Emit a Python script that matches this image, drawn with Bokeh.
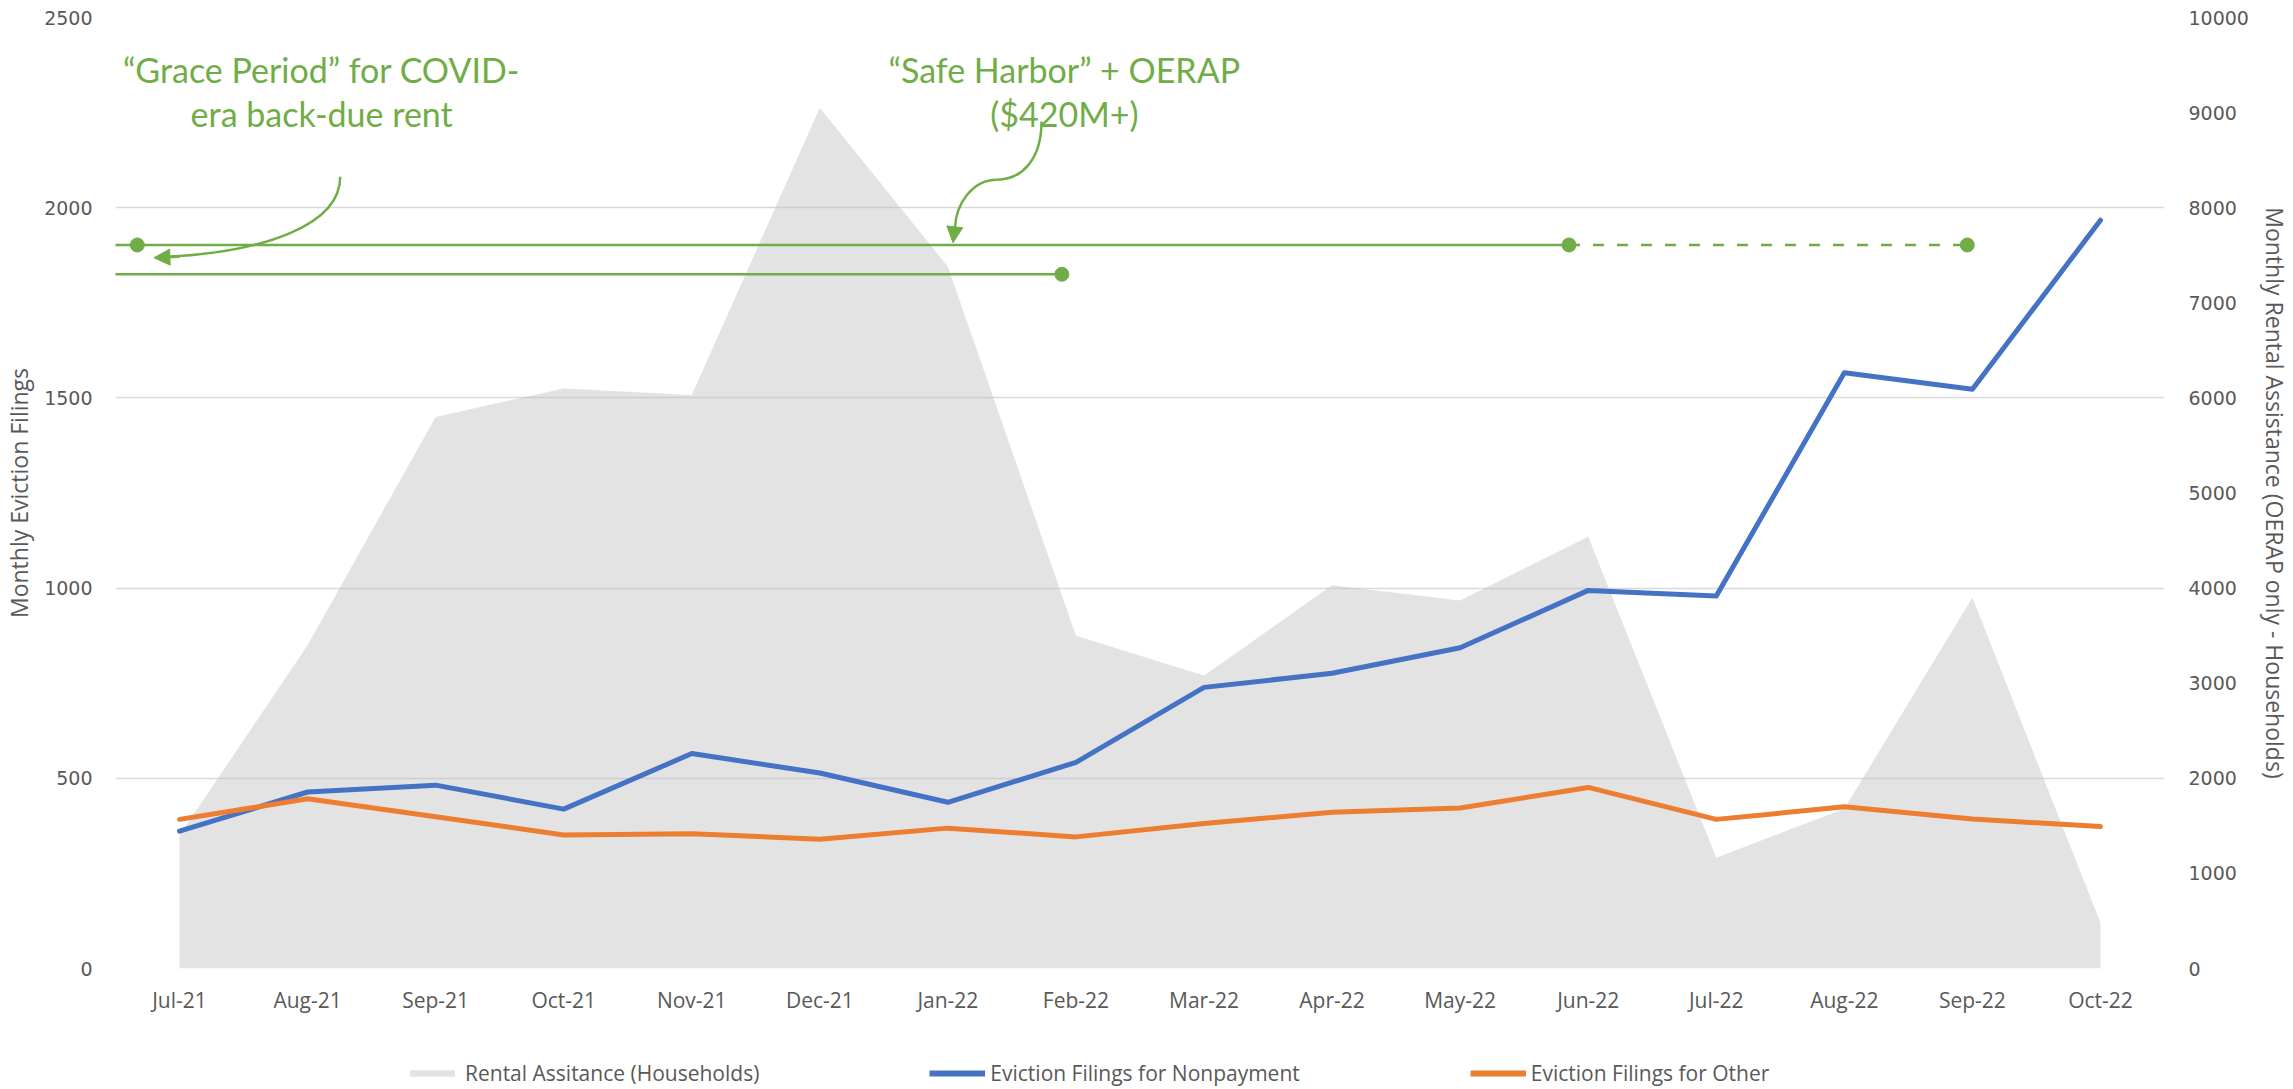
from bokeh.plotting import figure
from bokeh.layouts import column
from bokeh.models import (FactorRange, Range1d, LinearAxis, FixedTicker, Legend,
                          LegendItem, Label, Arrow, NormalHead)
from bokeh.embed import file_html
from bokeh.resources import INLINE

# ---------------- data ----------------
months = ["Jul-21", "Aug-21", "Sep-21", "Oct-21", "Nov-21", "Dec-21", "Jan-22", "Feb-22",
          "Mar-22", "Apr-22", "May-22", "Jun-22", "Jul-22", "Aug-22", "Sep-22", "Oct-22"]
rental_assistance = [1400, 3400, 5800, 6100, 6030, 9050, 7380, 3500,
                     3080, 4030, 3870, 4540, 1165, 1680, 3900, 480]
nonpayment = [361, 464, 482, 419, 565, 514, 437, 542,
              739, 776, 843, 994, 979, 1566, 1523, 1967]
other = [392, 446, 399, 351, 354, 340, 369, 346,
         381, 411, 422, 476, 392, 425, 393, 373]
left_ticks = [0, 500, 1000, 1500, 2000, 2500]
right_ticks = [0, 1000, 2000, 3000, 4000, 5000, 6000, 7000, 8000, 9000, 10000]

series_names = ["Rental Assitance (Households)", "Eviction Filings for Nonpayment",
                "Eviction Filings for Other"]
left_title = "Monthly Eviction Filings"
right_title = "Monthly Rental Assistance (OERAP only - Households)"

# annotation content (policy periods on the left axis scale)
grace_text = ["\u201cGrace Period\u201d for COVID-", "era back-due rent"]
safe_text = ["\u201cSafe Harbor\u201d + OERAP", "($420M+)"]
safe_y = 1902
grace_y = 1825

GREEN = "#70AD47"
BLUE = "#4472C4"
ORANGE = "#ED7D31"
GRAY_TXT = "#595959"
AREA_FILL = "#BDBDBD"
AREA_ALPHA = 0.42

p = figure(width=2293, height=1040,
           x_range=FactorRange(factors=months, range_padding=0),
           y_range=Range1d(0, 2500),
           output_backend="svg", toolbar_location=None,
           min_border_left=111, min_border_right=122,
           min_border_top=17, min_border_bottom=72)
p.outline_line_color = None
p.background_fill_color = "white"
p.extra_y_ranges = {"right": Range1d(0, 10000)}

# grid
p.xgrid.grid_line_color = None
p.ygrid.ticker = FixedTicker(ticks=left_ticks)
p.ygrid.grid_line_color = "#D9D9D9"
p.ygrid.grid_line_width = 1.5

# left axis
ya = p.yaxis[0]
ya.ticker = FixedTicker(ticks=left_ticks)
ya.axis_label = left_title

# right axis
ra = LinearAxis(y_range_name="right", ticker=FixedTicker(ticks=right_ticks),
                axis_label=right_title)
p.add_layout(ra, "right")

for ax, so, lso in ((ya, 23, 6), (ra, 24, 7)):
    ax.axis_line_color = None
    ax.major_tick_line_color = None
    ax.minor_tick_line_color = None
    ax.major_tick_out = 0
    ax.major_tick_in = 0
    ax.minor_tick_out = 0
    ax.major_label_text_font = "DejaVu Sans"
    ax.major_label_text_font_size = "19px"
    ax.major_label_text_color = GRAY_TXT
    ax.major_label_standoff = so
    ax.axis_label_text_font = "Open Sans"
    ax.axis_label_text_font_size = "23px"
    ax.axis_label_text_font_style = "normal"
    ax.axis_label_text_color = GRAY_TXT
    ax.axis_label_standoff = lso

xa = p.xaxis[0]
xa.axis_line_color = None
xa.major_tick_line_color = None
xa.minor_tick_line_color = None
xa.major_tick_out = 0
xa.major_tick_in = 0
xa.major_label_text_font = "Open Sans"
xa.major_label_text_font_size = "21px"
xa.major_label_text_color = GRAY_TXT
xa.major_label_standoff = 17

# area (right axis)
p.varea(x=months, y1=[0] * len(months), y2=rental_assistance, y_range_name="right",
        fill_color=AREA_FILL, fill_alpha=AREA_ALPHA)

# lines
p.line(months, nonpayment, line_color=BLUE, line_width=5, line_join="round", line_cap="round")
p.line(months, other, line_color=ORANGE, line_width=5, line_join="round", line_cap="round")

# ---------- policy annotations (synthetic x positions on the category axis) ----------
left_edge = -0.80
safe_solid_end = 11.35
safe_dash_end = 14.46
grace_end = 7.39
safe_dot_start = 0.17

p.add_layout(Arrow(end=None, x_start=left_edge, y_start=safe_y, x_end=safe_solid_end, y_end=safe_y,
                   line_color=GREEN, line_width=2.5))
p.add_layout(Arrow(end=None, x_start=safe_solid_end, y_start=safe_y, x_end=safe_dash_end, y_end=safe_y,
                   line_color=GREEN, line_width=2.5, line_dash="11 13"))
p.add_layout(Arrow(end=None, x_start=left_edge, y_start=grace_y, x_end=grace_end, y_end=grace_y,
                   line_color=GREEN, line_width=2.5))
p.scatter(x=[safe_dot_start, safe_solid_end, safe_dash_end], y=[safe_y] * 3, size=14,
          color=GREEN, marker="circle")
p.scatter(x=[grace_end], y=[grace_y], size=14, color=GREEN, marker="circle")

# curved callout arrows
p.bezier(x0=[1.755], y0=[2081.6], x1=[0.404], y1=[1871.1],
         cx0=[1.755], cy0=[1955.3], cx1=[1.173], cy1=[1884.2],
         line_color=GREEN, line_width=2.5)
p.add_layout(Arrow(end=NormalHead(size=16, fill_color=GREEN, line_color=GREEN),
                   x_start=0.50, y_start=1871.0, x_end=0.30, y_end=1868.4,
                   line_color=GREEN, line_width=2.5))

p.bezier(x0=[7.231, 6.882], y0=[2226.3, 2073.7], x1=[6.882, 6.555], y1=[2073.7, 1947.4],
         cx0=[7.231, 6.687], cy0=[2126.3, 2073.7], cx1=[7.076, 6.563], cy1=[2073.7, 2007.9],
         line_color=GREEN, line_width=2.5)
p.add_layout(Arrow(end=NormalHead(size=16, fill_color=GREEN, line_color=GREEN),
                   x_start=6.555, y_start=1952.6, x_end=6.540, y_end=1907.9,
                   line_color=GREEN, line_width=2.5))

for txt_lines, cx in ((grace_text, 1.610), (safe_text, 7.41)):
    for txt, yy in zip(txt_lines, (2362.0, 2247.0)):
        p.add_layout(Label(x=cx, y=yy, text=txt, text_align="center", text_baseline="middle",
                           text_font="Lato", text_font_size="34px", text_color=GREEN))

# ---------- legend strip below the chart ----------
lg = figure(width=2293, height=49, output_backend="svg", toolbar_location=None,
            x_range=Range1d(0, 1), y_range=Range1d(0, 1),
            x_axis_type=None, y_axis_type=None,
            min_border=0, min_border_left=0, min_border_right=0,
            min_border_top=0, min_border_bottom=0)
lg.grid.visible = False
lg.outline_line_color = None
off = [-5, -4]
r_area = lg.varea(x=off, y1=[-5, -5], y2=[-4, -4], fill_color="#E3E3E3", fill_alpha=1.0)
r_blue = lg.line(x=off, y=off, line_color=BLUE, line_width=6)
r_orange = lg.line(x=off, y=off, line_color=ORANGE, line_width=6)
legend = Legend(items=[LegendItem(label=series_names[0], renderers=[r_area]),
                       LegendItem(label=series_names[1], renderers=[r_blue]),
                       LegendItem(label=series_names[2], renderers=[r_orange])],
                orientation="horizontal", location=(289, 2),
                padding=0, margin=0, spacing=170,
                glyph_width=56, glyph_height=8, label_height=20, label_standoff=5,
                label_text_font="Open Sans", label_text_font_size="21px",
                label_text_color=GRAY_TXT,
                background_fill_alpha=0, border_line_color=None)
lg.add_layout(legend)

layout = column(p, lg, spacing=0)
open("out.html", "w").write(file_html(layout, INLINE))
